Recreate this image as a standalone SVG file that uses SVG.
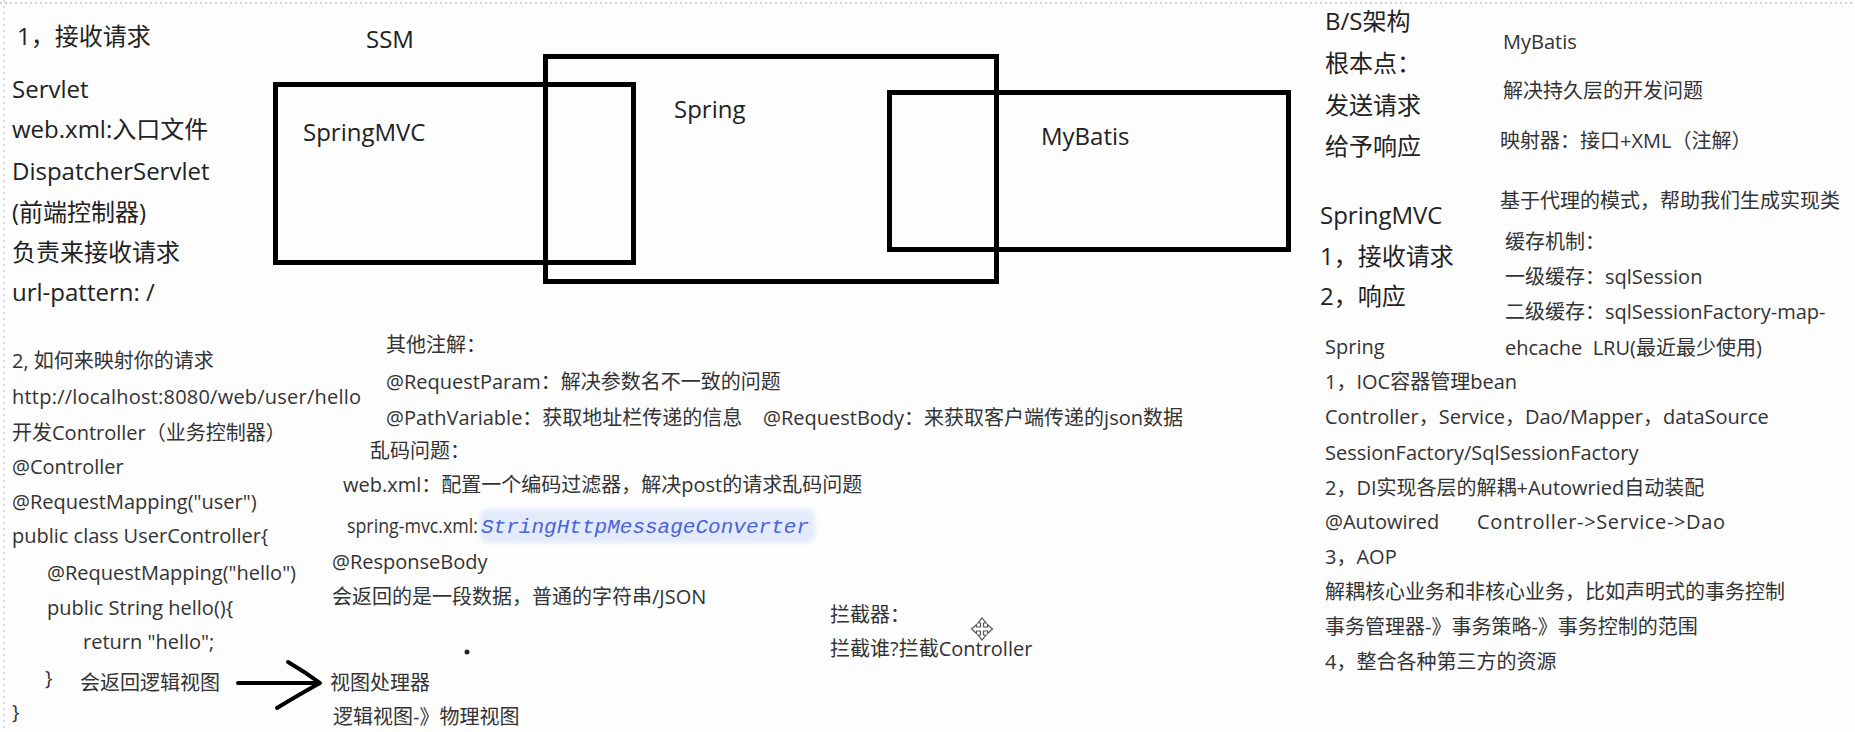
<svg xmlns="http://www.w3.org/2000/svg" width="1855" height="732" viewBox="0 0 1855 732">
<style>
text{font-family:"Open Sans","Noto Sans CJK SC",sans-serif;fill:#222}
.b{font-size:24px}
.s{font-size:20px;fill:#333}
.box{fill:none;stroke:#000;stroke-width:5}
.code{font-family:"Liberation Mono",monospace;font-style:italic;font-size:21px;fill:#4a63d6}
.edge{fill:none;stroke:#000;stroke-width:4;stroke-linecap:round;stroke-linejoin:round}
</style>
<defs>
<filter id="soft" x="-10%" y="-30%" width="120%" height="160%"><feGaussianBlur stdDeviation="2"/></filter>
</defs>
<rect width="1855" height="732" fill="#fdfdfd"/>
<line x1="0" y1="3" x2="1855" y2="3" stroke="#c9d1dc" stroke-width="2" stroke-dasharray="2 3"/>
<line x1="4" y1="0" x2="4" y2="732" stroke="#d6dce4" stroke-width="2" stroke-dasharray="2 4"/>

<g id="ssm-title"><text class="b" x="366" y="48">SSM</text></g>

<g id="node-springmvc">
<rect class="box" x="275.5" y="84.5" width="358" height="178"/>
<text class="b" x="303" y="141">SpringMVC</text>
</g>
<g id="node-spring">
<rect class="box" x="545.5" y="56.5" width="451" height="225"/>
<text class="b" x="674" y="118">Spring</text>
</g>
<g id="node-mybatis">
<rect class="box" x="889.5" y="92.5" width="399" height="157"/>
<text class="b" x="1041" y="145">MyBatis</text>
</g>

<g id="left-notes">
<text class="b" x="17" y="45">1，接收请求</text>
<text class="b" x="12" y="98">Servlet</text>
<text class="b" x="12" y="138">web.xml:入口文件</text>
<text class="b" x="12" y="180">DispatcherServlet</text>
<text class="b" x="12" y="221">(前端控制器)</text>
<text class="b" x="12" y="261">负责来接收请求</text>
<text class="b" x="12" y="301">url-pattern: /</text>
</g>

<g id="left-code">
<text class="s" x="12" y="368">2, 如何来映射你的请求</text>
<text class="s" x="12" y="404" textLength="349">http://localhost:8080/web/user/hello</text>
<text class="s" x="12" y="440">开发Controller（业务控制器）</text>
<text class="s" x="12" y="474">@Controller</text>
<text class="s" x="12" y="509">@RequestMapping("user")</text>
<text class="s" x="12" y="543">public class UserController{</text>
<text class="s" x="47" y="580">@RequestMapping("hello")</text>
<text class="s" x="47" y="615">public String hello(){</text>
<text class="s" x="83" y="649">return "hello";</text>
<text class="s" x="45" y="685">}</text>
<text class="s" x="80" y="690">会返回逻辑视图</text>
<text class="s" x="12" y="719">}</text>
</g>

<g id="middle-notes">
<text class="s" x="386" y="352">其他注解：</text>
<text class="s" x="386" y="389">@RequestParam：解决参数名不一致的问题</text>
<text class="s" x="386" y="425">@PathVariable：获取地址栏传递的信息</text>
<text class="s" x="763" y="425">@RequestBody：来获取客户端传递的json数据</text>
<text class="s" x="370" y="458">乱码问题：</text>
<text class="s" x="343" y="492">web.xml：配置一个编码过滤器，解决post的请求乱码问题</text>
<rect x="480" y="509" width="335" height="34" rx="8" fill="#dfe7fb" opacity="0.85" filter="url(#soft)"/>
<text class="s" x="347" y="533" textLength="131" lengthAdjust="spacingAndGlyphs">spring-mvc.xml:</text>
<text class="code" x="481" y="533" textLength="328" lengthAdjust="spacingAndGlyphs">StringHttpMessageConverter</text>
<text class="s" x="332" y="569">@ResponseBody</text>
<text class="s" x="332" y="604">会返回的是一段数据，普通的字符串/JSON</text>
<circle cx="467" cy="652" r="2.5" fill="#222"/>
</g>

<g id="view-resolver">
<text class="s" x="330" y="690">视图处理器</text>
<text class="s" x="333" y="724">逻辑视图-》物理视图</text>
</g>

<g id="interceptor">
<text class="s" x="830" y="622">拦截器：</text>
<text class="s" x="830" y="656">拦截谁?拦截Controller</text>
<path d="M982,618 l4,5 h-2.5 v4 h4 v-2.5 l5,4.5 l-5,4.5 v-2.5 h-4 v4 h2.5 l-4,5 l-4,-5 h2.5 v-4 h-4 v2.5 l-5,-4.5 l5,-4.5 v2.5 h4 v-4 h-2.5 z" fill="#fff" stroke="#555" stroke-width="1.2"/>
</g>

<g id="right-notes">
<text class="b" x="1325" y="30">B/S架构</text>
<text class="b" x="1325" y="72">根本点：</text>
<text class="b" x="1325" y="114">发送请求</text>
<text class="b" x="1325" y="155">给予响应</text>
<text class="b" x="1320" y="224">SpringMVC</text>
<text class="b" x="1320" y="265">1，接收请求</text>
<text class="b" x="1320" y="305">2，响应</text>
</g>

<g id="mybatis-notes">
<text class="s" x="1503" y="49">MyBatis</text>
<text class="s" x="1503" y="98">解决持久层的开发问题</text>
<text class="s" x="1500" y="148">映射器：接口+XML（注解）</text>
<text class="s" x="1500" y="208">基于代理的模式，帮助我们生成实现类</text>
<text class="s" x="1505" y="249">缓存机制：</text>
<text class="s" x="1505" y="284">一级缓存：sqlSession</text>
<text class="s" x="1505" y="319">二级缓存：sqlSessionFactory-map-</text>
<text class="s" x="1505" y="355">ehcache&#160;&#160;LRU(最近最少使用)</text>
</g>

<g id="spring-notes">
<text class="s" x="1325" y="354">Spring</text>
<text class="s" x="1325" y="389">1，IOC容器管理bean</text>
<text class="s" x="1325" y="424">Controller，Service，Dao/Mapper，dataSource</text>
<text class="s" x="1325" y="460">SessionFactory/SqlSessionFactory</text>
<text class="s" x="1325" y="495">2，DI实现各层的解耦+Autowried自动装配</text>
<text class="s" x="1325" y="529">@Autowired</text>
<text class="s" x="1477" y="529" textLength="248">Controller->Service->Dao</text>
<text class="s" x="1325" y="564">3，AOP</text>
<text class="s" x="1325" y="599">解耦核心业务和非核心业务，比如声明式的事务控制</text>
<text class="s" x="1325" y="634">事务管理器-》事务策略-》事务控制的范围</text>
<text class="s" x="1325" y="669">4，整合各种第三方的资源</text>
</g>

<g id="connectors">
<path class="edge" d="M238,683 L318,683"/>
<path class="edge" d="M288,662 Q305,672 320,683 Q300,694 277,708"/>
</g>
</svg>
